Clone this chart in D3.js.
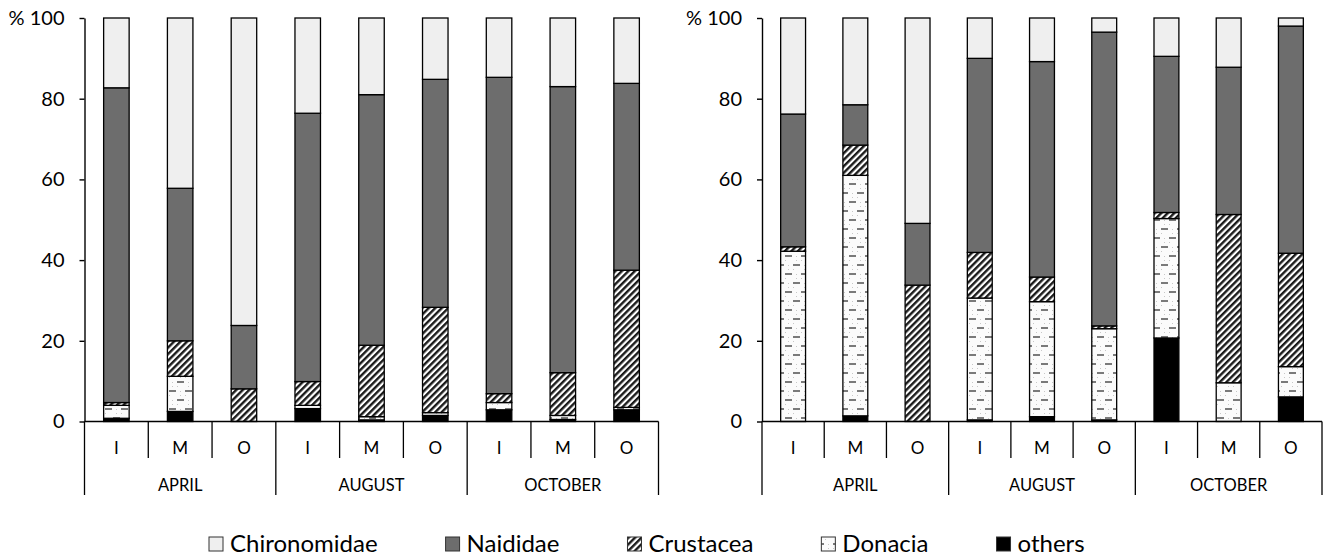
<!DOCTYPE html>
<html>
<head>
<meta charset="utf-8">
<script src="https://cdn.jsdelivr.net/npm/d3@7"></script>
<style>
  html, body { margin: 0; padding: 0; background: #fff; }
  svg { display: block; font-family: Lato, "Open Sans", sans-serif; }
</style>
</head>
<body>
<svg id="chart" width="1325" height="555"></svg>
<script>
// ---------------- DATA ----------------
const months = ["APRIL", "AUGUST", "OCTOBER"];
const sites = ["I", "M", "O"];
const seriesNames = ["others", "Donacia", "Crustacea", "Naididae", "Chironomidae"]; // bottom -> top
const legendOrder = ["Chironomidae", "Naididae", "Crustacea", "Donacia", "others"];
const yTicks = [0, 20, 40, 60, 80, 100];

// Left panel (APR I, M, O, AUG I, M, O, OCT I, M, O) — percentages
const leftOthers       = [0.8, 2.5, 0.0, 3.2, 0.4, 1.5, 2.9, 0.5, 2.9];
const leftDonacia      = [3.2, 8.7, 0.0, 0.8, 0.8, 0.7, 1.8, 1.0, 0.6];
const leftCrustacea    = [0.7, 8.8, 8.1, 5.9, 17.7, 26.1, 2.2, 10.6, 34.0];
const leftNaididae     = [78.0, 37.8, 15.7, 66.5, 62.1, 56.5, 78.4, 70.9, 46.3];
const leftChironomidae = [17.3, 42.2, 76.2, 23.6, 19.0, 15.2, 14.7, 17.0, 16.2];

// Right panel
const rightOthers       = [0.0, 1.4, 0.0, 0.4, 1.2, 0.4, 20.7, 0.0, 6.1];
const rightDonacia      = [42.2, 59.6, 0.0, 30.2, 28.5, 22.6, 29.6, 9.6, 7.5];
const rightCrustacea    = [1.1, 7.5, 33.8, 11.3, 6.1, 0.7, 1.5, 41.7, 28.1];
const rightNaididae     = [32.9, 10.0, 15.3, 48.1, 53.4, 72.8, 38.7, 36.5, 56.3];
const rightChironomidae = [23.8, 21.5, 50.9, 10.0, 10.8, 3.5, 9.5, 12.2, 2.0];

// ---------------- BUILD TABLES ----------------
const keys = months.flatMap(m => sites.map(s => m + "-" + s));
function table(o, d, c, n, ch) {
  return keys.map((k, i) => ({
    key: k, month: k.split("-")[0], site: k.split("-")[1],
    others: o[i], Donacia: d[i], Crustacea: c[i], Naididae: n[i], Chironomidae: ch[i]
  }));
}
const leftData = table(leftOthers, leftDonacia, leftCrustacea, leftNaididae, leftChironomidae);
const rightData = table(rightOthers, rightDonacia, rightCrustacea, rightNaididae, rightChironomidae);

const svg = d3.select("#chart");

// ---------------- PATTERNS ----------------
const defs = svg.append("defs");
const hatch = defs.append("pattern")
  .attr("id", "hatch").attr("patternUnits", "userSpaceOnUse")
  .attr("width", 4.6).attr("height", 4.6)
  .attr("patternTransform", "rotate(45)");
hatch.append("rect").attr("width", 4.6).attr("height", 4.6).attr("fill", "#fff");
hatch.append("rect").attr("width", 2.4).attr("height", 4.6).attr("fill", "#1a1a1a");

const dash = defs.append("pattern")
  .attr("id", "dash").attr("patternUnits", "userSpaceOnUse")
  .attr("width", 16).attr("height", 18);
dash.append("rect").attr("width", 16).attr("height", 18).attr("fill", "#fbfbfb");
dash.append("rect").attr("x", 1).attr("y", 3).attr("width", 7).attr("height", 2).attr("fill", "#7a7a7a");
dash.append("rect").attr("x", 9).attr("y", 12).attr("width", 7).attr("height", 2).attr("fill", "#7a7a7a");
[[12, 4], [4, 13], [12, 8], [4, 17], [1, 8], [9, 17]].forEach(([x, y]) =>
  dash.append("rect").attr("x", x).attr("y", y).attr("width", 1).attr("height", 1).attr("fill", "#c8c8c8"));

const fills = {
  Chironomidae: "#efefef",
  Naididae: "#6d6d6d",
  Crustacea: "url(#hatch)",
  Donacia: "url(#dash)",
  others: "#000"
};

// ---------------- SCALES ----------------
const y = d3.scaleLinear().domain([0, 100]).range([421.5, 18]);
const stack = d3.stack().keys(seriesNames);

function drawPanel(data, x0, x1) {
  const g = svg.append("g");
  const x = d3.scaleBand().domain(keys).range([x0, x1]).padding(0);
  const bw = x.bandwidth() * 0.4;
  const layers = stack(data);

  // bars
  layers.forEach(layer => {
    g.append("g").selectAll("rect").data(layer).join("rect")
      .attr("x", d => x(d.data.key) + (x.bandwidth() - bw) / 2)
      .attr("y", d => y(d[1]))
      .attr("width", bw)
      .attr("height", d => Math.max(0, y(d[0]) - y(d[1])))
      .attr("fill", fills[layer.key])
      .attr("stroke", "#000")
      .attr("stroke-width", d => (d[1] - d[0]) > 0 ? 1.3 : 0);
  });

  // y axis
  const ya = g.append("g").attr("transform", `translate(${x0},0)`)
    .call(d3.axisLeft(y).tickValues(yTicks).tickSize(5).tickSizeOuter(0).tickPadding(15)
      .tickFormat(d => d === 100 ? "% 100" : d));
  ya.selectAll("path.domain").attr("stroke", "#000").attr("stroke-width", 1.4);
  ya.selectAll(".tick line").attr("stroke", "#000").attr("stroke-width", 1.4);
  ya.selectAll(".tick text").attr("fill", "#000").style("font-size", "20px")
    .style("font-family", "Lato, sans-serif");

  // x baseline
  g.append("line").attr("x1", x0).attr("x2", x1).attr("y1", y(0)).attr("y2", y(0))
    .attr("stroke", "#000").attr("stroke-width", 1.4);

  // separators
  const step = x.step();
  const seps = d3.range(keys.length + 1);
  g.append("g").selectAll("line").data(seps).join("line")
    .attr("x1", i => x0 + i * step).attr("x2", i => x0 + i * step)
    .attr("y1", y(0))
    .attr("y2", i => i % sites.length === 0 ? 495 : 458)
    .attr("stroke", "#000").attr("stroke-width", 1.3);

  // site labels
  g.append("g").selectAll("text").data(data).join("text")
    .attr("x", d => x(d.key) + x.bandwidth() / 2)
    .attr("y", 453.5)
    .attr("text-anchor", "middle")
    .style("font-size", "17px")
    .text(d => d.site);

  // month labels
  g.append("g").selectAll("text").data(months).join("text")
    .attr("x", (m, i) => x0 + (i * 3 + 1.5) * step)
    .attr("y", 490.5)
    .attr("text-anchor", "middle")
    .style("font-size", "16.5px")
    .text(m => m);
}

drawPanel(leftData, 84.5, 658.5);
drawPanel(rightData, 762, 1322);

// ---------------- LEGEND ----------------
const lg = svg.append("g");
let lx = 209;
legendOrder.forEach(name => {
  const item = lg.append("g");
  item.append("rect").attr("x", lx).attr("y", 537).attr("width", 14).attr("height", 14)
    .attr("fill", fills[name]).attr("stroke", "#333").attr("stroke-width", 1);
  const t = item.append("text").attr("x", lx + 21).attr("y", 551.5)
    .style("font-size", "24px").attr("fill", "#000").text(name);
  const w = t.node().getComputedTextLength();
  lx = lx + 21 + w + 68;
});
</script>
</body>
</html>
